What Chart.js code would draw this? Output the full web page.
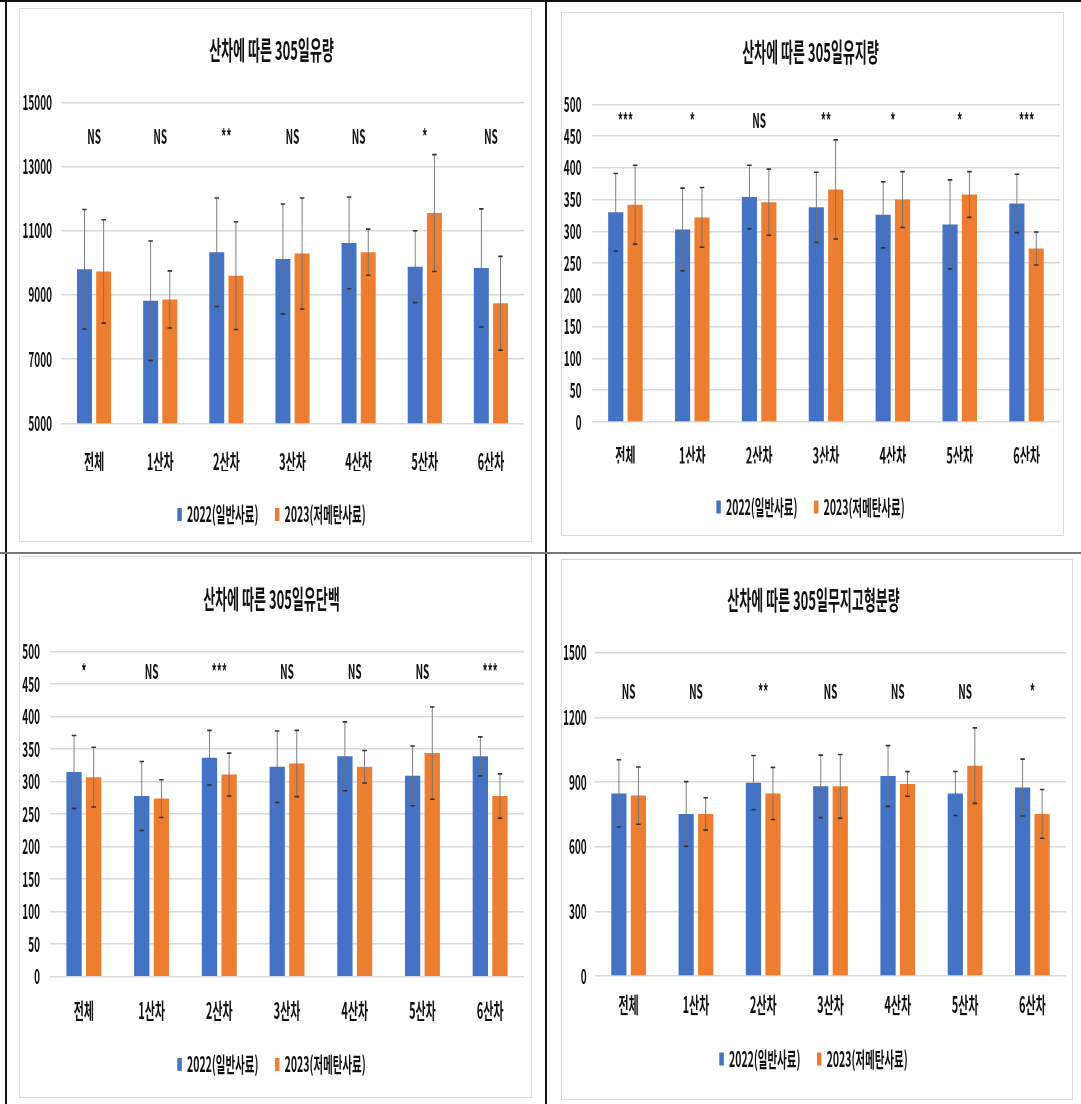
<!DOCTYPE html>
<html><head><meta charset="utf-8">
<script src="https://cdn.jsdelivr.net/npm/chart.js@4.4.1/dist/chart.umd.min.js"></script>
<style>
html,body{margin:0;padding:0;background:#fff;}
body{width:1081px;height:1104px;position:relative;overflow:hidden;}
.panel{position:absolute;overflow:hidden;background:#fff;}
.frame{position:absolute;left:0;top:0;right:0;bottom:0;border:1px solid #d9d9d9;pointer-events:none;}
.squish{position:absolute;left:0;top:0;transform-origin:0 0;}
.rule{position:absolute;}
</style></head><body>
<div class="rule" style="left:0;top:0;width:1081px;height:2px;background:#111"></div>
<div class="rule" style="left:5px;top:0;width:2px;height:1104px;background:#111"></div>
<div class="rule" style="left:545px;top:0;width:2px;height:1104px;background:#111"></div>
<div class="rule" style="left:0;top:552px;width:1081px;height:2px;background:#777"></div>

<div id="p1" class="panel"></div>
<div id="p2" class="panel"></div>
<div id="p3" class="panel"></div>
<div id="p4" class="panel"></div>

<script>
// ---------------- DATA ----------------
const categories = ['전체', '1산차', '2산차', '3산차', '4산차', '5산차', '6산차'];
const seriesNames = ['2022(일반사료)', '2023(저메탄사료)'];

// 305일유량
const milk2022   = [9800, 8820, 10330, 10120, 10620, 9880, 9840];
const milk2022SD = [1860, 1860, 1690, 1710, 1430, 1120, 1840];
const milk2023   = [9730, 8860, 9600, 10290, 10330, 11550, 8740];
const milk2023SD = [1610, 890, 1680, 1730, 720, 1820, 1460];
const milkSig    = ['NS', 'NS', '**', 'NS', 'NS', '*', 'NS'];
const milkTicks  = [5000, 7000, 9000, 11000, 13000, 15000];

// 305일유지량
const fat2022   = [330, 303, 354, 338, 326, 311, 344];
const fat2022SD = [61, 65, 50, 55, 52, 70, 46];
const fat2023   = [342, 322, 346, 366, 350, 358, 273];
const fat2023SD = [62, 47, 52, 78, 44, 36, 26];
const fatSig    = ['***', '*', 'NS', '**', '*', '*', '***'];
const fatTicks  = [0, 50, 100, 150, 200, 250, 300, 350, 400, 450, 500];

// 305일유단백
const protein2022   = [315, 278, 337, 323, 339, 309, 339];
const protein2022SD = [56, 53, 42, 55, 53, 46, 30];
const protein2023   = [307, 274, 311, 328, 323, 344, 278];
const protein2023SD = [46, 29, 33, 51, 25, 71, 34];
const proteinSig    = ['*', 'NS', '***', 'NS', 'NS', 'NS', '***'];
const proteinTicks  = [0, 50, 100, 150, 200, 250, 300, 350, 400, 450, 500];

// 305일무지고형분량
const snf2022   = [847, 752, 897, 880, 928, 847, 874];
const snf2022SD = [156, 150, 126, 145, 141, 102, 132];
const snf2023   = [837, 752, 847, 880, 891, 976, 752];
const snf2023SD = [133, 75, 121, 148, 57, 175, 113];
const snfSig    = ['NS', 'NS', '**', 'NS', 'NS', 'NS', '*'];
const snfTicks  = [0, 300, 600, 900, 1200, 1500];

// ---------------- RENDERING ----------------
const SQ = 0.5; // horizontal compression of the original picture
const FONT = "'Noto Sans CJK KR', 'Noto Sans', sans-serif";
const BLUE = '#4472C4', ORANGE = '#ED7D31';

const errorBarPlugin = {
  id: 'errBars',
  afterDatasetsDraw(chart) {
    const ctx = chart.ctx, ys = chart.scales.y;
    chart.data.datasets.forEach((ds, di) => {
      const meta = chart.getDatasetMeta(di);
      meta.data.forEach((bar, i) => {
        const v = ds.data[i], e = ds.sd[i];
        const yt = ys.getPixelForValue(v + e), yb = ys.getPixelForValue(v - e);
        ctx.save();
        ctx.strokeStyle = '#707070'; ctx.lineWidth = 1.8;
        ctx.beginPath(); ctx.moveTo(bar.x, yt); ctx.lineTo(bar.x, yb); ctx.stroke();
        ctx.strokeStyle = '#333'; ctx.lineWidth = 1.6;
        ctx.beginPath();
        ctx.moveTo(bar.x - 4.5, yt); ctx.lineTo(bar.x + 4.5, yt);
        ctx.moveTo(bar.x - 4.5, yb); ctx.lineTo(bar.x + 4.5, yb);
        ctx.stroke();
        ctx.restore();
      });
    });
  }
};

const sigPlugin = {
  id: 'sig',
  afterDatasetsDraw(chart, args, opts) {
    const ctx = chart.ctx, xs = chart.scales.x, ys = chart.scales.y;
    ctx.save();
    ctx.font = 'bold 20px ' + FONT;
    ctx.fillStyle = '#111';
    ctx.textAlign = 'center';
    ctx.textBaseline = 'middle';
    const y = ys.getPixelForValue(opts.at);
    opts.labels.forEach((t, i) => ctx.fillText(t, xs.getPixelForValue(i), y));
    ctx.restore();
  }
};

function makeChart(s) {
  const panel = document.getElementById(s.id);
  panel.style.left = s.left + 'px'; panel.style.top = s.top + 'px';
  panel.style.width = s.w + 'px'; panel.style.height = s.h + 'px';
  const wrap = document.createElement('div');
  wrap.className = 'squish';
  const cw = Math.round(s.w / SQ);
  wrap.style.width = cw + 'px'; wrap.style.height = s.h + 'px';
  wrap.style.transform = 'scaleX(' + SQ + ')';
  const cv = document.createElement('canvas');
  cv.width = cw; cv.height = s.h;
  wrap.appendChild(cv); panel.appendChild(wrap);
  const fr = document.createElement('div'); fr.className = 'frame'; panel.appendChild(fr);

  new Chart(cv, {
    type: 'bar',
    data: {
      labels: categories,
      datasets: [
        { label: seriesNames[0], data: s.a, sd: s.aSD, backgroundColor: BLUE,
          categoryPercentage: 0.58, barPercentage: 0.78 },
        { label: seriesNames[1], data: s.b, sd: s.bSD, backgroundColor: ORANGE,
          categoryPercentage: 0.58, barPercentage: 0.78 }
      ]
    },
    options: {
      responsive: false, animation: false, devicePixelRatio: 1,
      layout: { padding: { left: 0, right: s.pr / SQ, top: 0, bottom: s.pb } },
      plugins: {
        title: { display: true, text: s.title, color: '#111',
          font: { family: FONT, size: 26, weight: 'bold' },
          padding: { top: s.tt - 0.6, bottom: s.tb - 0.6 } },
        legend: { position: 'bottom',
          labels: { color: '#111', boxWidth: 9, boxHeight: 13, padding: 33,
            font: { family: FONT, size: 21, weight: 'bold' } } },
        tooltip: { enabled: false },
        sig: { labels: s.sig, at: s.sigAt }
      },
      scales: {
        x: {
          grid: { display: false, drawTicks: false },
          border: { display: false },
          ticks: { color: '#111', padding: s.xp, font: { family: FONT, size: 22, weight: 'bold' } },
          afterFit: (sc) => { sc.height = s.xh; }
        },
        y: {
          min: s.ticks[0], max: s.ticks[s.ticks.length - 1],
          afterBuildTicks: (sc) => { sc.ticks = s.ticks.map(v => ({ value: v })); },
          grid: { color: '#d9d9d9', lineWidth: 1.5, drawTicks: false },
          border: { display: false },
          ticks: { color: '#111', padding: s.yp / SQ, callback: (v) => String(v),
            font: { family: FONT, size: 20, weight: 'bold' } },
          afterFit: (sc) => { sc.width = s.yw / SQ; }
        }
      }
    },
    plugins: [errorBarPlugin, sigPlugin]
  });
}

makeChart({ id: 'p1', left: 19, top: 8, w: 513, h: 534, title: '산차에 따른 305일유량',
  a: milk2022, aSD: milk2022SD, b: milk2023, bSD: milk2023SD, sig: milkSig, sigAt: 13950, ticks: milkTicks,
  tt: 27.4, tb: 36.9, pb: 7, xh: 47.7, xp: 25.1, yw: 42, yp: 9, pr: 8 });

makeChart({ id: 'p2', left: 561, top: 12, w: 503, h: 524, title: '산차에 따른 305일유지량',
  a: fat2022, aSD: fat2022SD, b: fat2023, bSD: fat2023SD, sig: fatSig, sigAt: 474, ticks: fatTicks,
  tt: 24.8, tb: 37.5, pb: 8.5, xh: 41.5, xp: 20.2, yw: 31, yp: 10.5, pr: 4 });

makeChart({ id: 'p3', left: 19, top: 556, w: 513, h: 542, title: '산차에 따른 305일유단백',
  a: protein2022, aSD: protein2022SD, b: protein2023, bSD: protein2023SD, sig: proteinSig, sigAt: 469, ticks: proteinTicks,
  tt: 27.7, tb: 38, pb: 13.1, xh: 44.2, xp: 20.7, yw: 31, yp: 10, pr: 8 });

makeChart({ id: 'p4', left: 561, top: 559, w: 512, h: 541, title: '산차에 따른 305일무지고형분량',
  a: snf2022, aSD: snf2022SD, b: snf2023, bSD: snf2023SD, sig: snfSig, sigAt: 1319, ticks: snfTicks,
  tt: 26, tb: 37.7, pb: 20.5, xh: 39.5, xp: 15.8, yw: 34, yp: 8.3, pr: 7 });
</script>
</body></html>
